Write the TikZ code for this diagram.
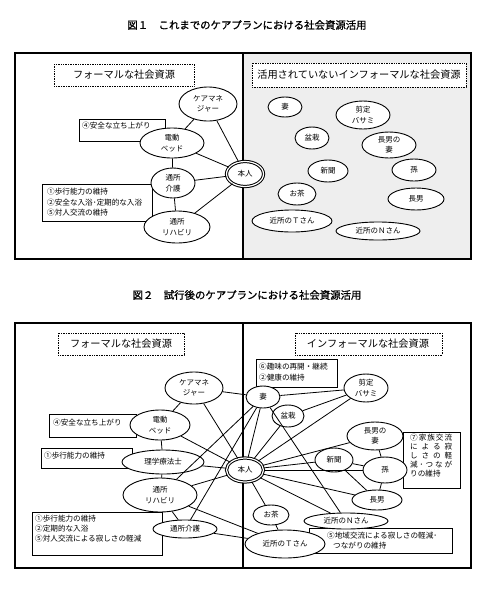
\documentclass[tikz,border=0pt]{standalone}
\usepackage{fontspec}
\newfontfamily\jp{Noto Sans CJK JP}
\newfontfamily\jpb[FakeBold=1.2]{Noto Sans CJK JP}
\usetikzlibrary{shapes.geometric}
\newcommand\nodefnt{\jp\fontsize{7.5}{10.5}\selectfont}
\newcommand\boxfnt{\jp\fontsize{7.6}{10.5}\selectfont}
\newcommand\labfnt{\jp\fontsize{10.2}{12}\selectfont}
\newcommand\titfnt{\jpb\fontsize{10.4}{12}\selectfont}
\begin{document}
\begin{tikzpicture}[x=1pt,y=-1pt,
  el/.style={ellipse, draw, line width=0.9pt, fill=white, inner sep=0pt, align=center, font=\nodefnt},
  honin/.style={ellipse, draw, double, line width=1pt, double distance=1.2pt, fill=white, inner sep=0pt, font=\nodefnt},
  conn/.style={line width=0.8pt},
  frame/.style={line width=1.1pt},
  boxline/.style={line width=0.8pt, fill=white},
  labbox/.style={densely dotted, line width=0.7pt, fill=white},
  bt/.style={anchor=west, inner sep=0pt, font=\boxfnt},
  lab/.style={inner sep=0pt, font=\labfnt},
  tit/.style={inner sep=0pt, font=\titfnt}]
\useasboundingbox (0,0) rectangle (489,600);
% ---------------- Figure 1 ----------------
\node[tit] (t1) at (247,25) {図１　これまでのケアプランにおける社会資源活用};
\fill[gray!13] (243,53) rectangle (471,259);
\draw[frame] (15,53) rectangle (471,259);
\draw[frame] (243,53) -- (243,259);
\draw[labbox] (54,64) rectangle (194,86);
\node[lab] (l1a) at (124,75) {フォーマルな社会資源};
\draw[labbox] (252,63) rectangle (466,87);
\node[lab] (l1b) at (359,75) {活用されていないインフォーマルな社会資源};
\draw[boxline] (79,119) rectangle (165,141);
\node[bt] (b1t) at (82,126) {④安全な立ち上がり};
\draw[boxline] (42,184) rectangle (152,221);
\node[bt] (b2t1) at (47,192) {①歩行能力の維持};
\node[bt] (b2t2) at (47,202.5) {②安全な入浴･定期的な入浴};
\node[bt] (b2t3) at (47,213) {⑤対人交流の維持};
% nodes
\node[el, minimum width=58pt, minimum height=34pt] (cm1) at (208,104) {ケアマネ\\ジャー};
\node[el, minimum width=64pt, minimum height=30pt] (dd1) at (172,143) {電動\\ベッド};
\node[el, minimum width=44pt, minimum height=30pt] (kg1) at (173,183) {通所\\介護};
\node[el, minimum width=66pt, minimum height=32pt] (rh1) at (177,227) {通所\\リハビリ};
\node[honin, minimum width=37pt, minimum height=25pt] (hn1) at (245,174) {本人};
\draw[conn] (cm1) -- (dd1);
\draw[conn] (cm1) -- (hn1);
\draw[conn] (dd1) -- (hn1);
\draw[conn] (dd1) -- (kg1);
\draw[conn] (kg1) -- (hn1);
\draw[conn] (kg1) -- (rh1);
\draw[conn] (rh1) -- (hn1);
\node[el, minimum width=34pt, minimum height=20pt] (ts1) at (285,107) {妻};
\node[el, minimum width=54pt, minimum height=28pt] (se1) at (363,115) {剪定\\バサミ};
\node[el, minimum width=34pt, minimum height=22pt] (bo1) at (312,138) {盆栽};
\node[el, minimum width=54pt, minimum height=26pt] (cw1) at (389,145) {長男の\\妻};
\node[el, minimum width=40pt, minimum height=22pt] (sh1) at (328,171) {新聞};
\node[el, minimum width=44pt, minimum height=22pt] (mg1) at (414,170) {孫};
\node[el, minimum width=38pt, minimum height=22pt] (oc1) at (297,194) {お茶};
\node[el, minimum width=56pt, minimum height=22pt] (cs1) at (416,199) {長男};
\node[el, minimum width=80pt, minimum height=22pt] (kt1) at (292,221) {近所のＴさん};
\node[el, minimum width=84pt, minimum height=18pt] (kn1) at (378,231) {近所のＮさん};
% ---------------- Figure 2 ----------------
\node[tit] (t2) at (247,295) {図２　試行後のケアプランにおける社会資源活用};
\draw[frame] (15,323) rectangle (471,568);
\draw[frame] (243,323) -- (243,568);
\draw[labbox] (58,333) rectangle (184,355);
\node[lab] (l2a) at (121,344) {フォーマルな社会資源};
\draw[labbox] (295,333) rectangle (442,355);
\node[lab] (l2b) at (368,344) {インフォーマルな社会資源};
\draw[boxline] (49,414) rectangle (136,437);
\node[bt] (b3t) at (53,423) {④安全な立ち上がり};
\draw[boxline] (41,448) rectangle (132,468);
\node[bt] (b4t) at (44,456) {①歩行能力の維持};
\draw[boxline] (32,512) rectangle (162,555);
\node[bt] (b5t1) at (35,519) {①歩行能力の維持};
\node[bt] (b5t2) at (35,529) {②定期的な入浴};
\node[bt] (b5t3) at (35,539) {⑤対人交流による寂しさの軽減};
\draw[boxline] (256,359) rectangle (337,387);
\node[bt] (b6t1) at (259,367) {⑥趣味の再開・継続};
\node[bt] (b6t2) at (259,377.5) {②健康の維持};
\draw[boxline] (403,432) rectangle (460,488);
\node[bt] (b7t1) at (410,438) {\makebox[42pt][s]{⑦\hfill 家\hfill 族\hfill 交\hfill 流}};
\node[bt] (b7t2) at (410,447) {\makebox[42pt][s]{に\hfill よ\hfill る\hfill 寂}};
\node[bt] (b7t3) at (410,456) {\makebox[42pt][s]{し\hfill さ\hfill の\hfill 軽}};
\node[bt] (b7t4) at (410,465) {\makebox[42pt][s]{減\hfill ･\hfill つ\hfill な\hfill が}};
\node[bt] (b7t5) at (410,474) {りの維持};
\draw[boxline] (309,528) rectangle (452,553);
\node[bt] (b8t1) at (327,535.5) {⑤地域交流による寂しさの軽減･};
\node[bt] (b8t2) at (333,546) {つながりの維持};
% nodes
\node[el, minimum width=58pt, minimum height=32pt] (cm2) at (194,388) {ケアマネ\\ジャー};
\node[el, minimum width=60pt, minimum height=30pt] (dd2) at (160,425) {電動\\ベッド};
\node[el, minimum width=82pt, minimum height=24pt] (rg2) at (163,462) {理学療法士};
\node[el, minimum width=74pt, minimum height=34pt] (rh2) at (160,495) {通所\\リハビリ};
\node[el, minimum width=64pt, minimum height=18pt] (kg2) at (185,529) {通所介護};
\node[honin, minimum width=37pt, minimum height=24pt] (hn2) at (245,470) {本人};
\node[el, minimum width=34pt, minimum height=22pt] (ts2) at (263,397) {妻};
\node[el, minimum width=44pt, minimum height=28pt] (se2) at (366,388) {剪定\\バサミ};
\node[el, minimum width=32pt, minimum height=22pt] (bo2) at (288,416) {盆栽};
\node[el, minimum width=56pt, minimum height=28pt] (cw2) at (375,436) {長男の\\妻};
\node[el, minimum width=38pt, minimum height=24pt] (sh2) at (334,460) {新聞};
\node[el, minimum width=44pt, minimum height=26pt] (mg2) at (385,470) {孫};
\node[el, minimum width=50pt, minimum height=20pt] (cs2) at (377,500) {長男};
\node[el, minimum width=36pt, minimum height=20pt] (oc2) at (271,515) {お茶};
\node[el, minimum width=84pt, minimum height=16pt] (kn2) at (346,521) {近所のＮさん};
\node[el, minimum width=80pt, minimum height=28pt] (kt2) at (285,544) {近所のＴさん};
\draw[conn] (cm2) -- (dd2);
\draw[conn] (cm2) -- (hn2);
\draw[conn] (cm2) -- (ts2);
\draw[conn] (dd2) -- (rg2);
\draw[conn] (dd2) -- (hn2);
\draw[conn] (rg2) -- (rh2);
\draw[conn] (rg2) -- (hn2);
\draw[conn] (rh2) -- (kg2);
\draw[conn] (rh2) -- (hn2);
\draw[conn] (rh2) -- (ts2);
\draw[conn] (kg2) -- (ts2);
\draw[conn] (rh2) -- (kt2);
\draw[conn] (kg2) -- (kt2);
\draw[conn] (ts2) -- (se2);
\draw[conn] (ts2) -- (hn2);
\draw[conn] (ts2) -- (kn2);
\draw[conn] (bo2) -- (se2);
\draw[conn] (bo2) -- (hn2);
\draw[conn] (se2) -- (hn2);
\draw[conn] (cw2) -- (hn2);
\draw[conn] (cw2) -- (mg2);
\draw[conn] (sh2) -- (hn2);
\draw[conn] (sh2) -- (mg2);
\draw[conn] (sh2) -- (cs2);
\draw[conn] (mg2) -- (hn2);
\draw[conn] (mg2) -- (cs2);
\draw[conn] (cs2) -- (hn2);
\draw[conn] (kn2) -- (hn2);
\draw[conn] (oc2) -- (hn2);
\draw[conn] (oc2) -- (kt2);
\end{tikzpicture}
\end{document}
